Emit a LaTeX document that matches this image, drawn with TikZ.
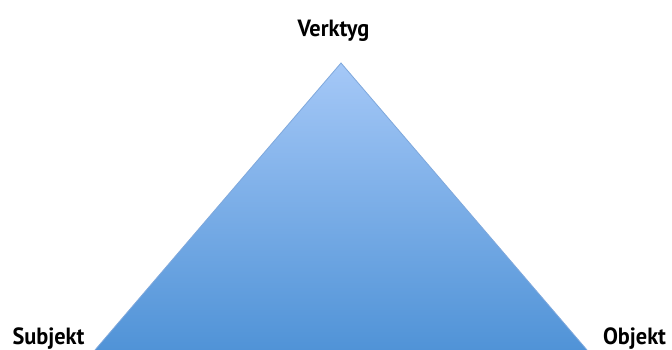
\documentclass[tikz,border=0pt]{standalone}
\usepackage{fontspec}
\setmainfont{PT Sans}
\definecolor{topblue}{HTML}{A5C8F7}
\definecolor{botblue}{HTML}{5093D7}
\definecolor{edgeblue}{HTML}{7FA8DC}
\begin{document}
\begin{tikzpicture}[x=1pt,y=1pt,
  lbl/.style={font=\fontsize{23.5}{26}\selectfont\bfseries, text=black, inner sep=0pt, anchor=base, xscale=0.95}]
\useasboundingbox (0,0) rectangle (672,350);
\coordinate (apex) at (341,287);
\coordinate (bl) at (95,0);
\coordinate (br) at (587,0);
\shade[top color=topblue, bottom color=botblue, draw=edgeblue, line width=0.8pt]
  (bl) -- (apex) -- (br);
\fill[white] (0,-5) rectangle (672,0);
\node[lbl] (verktyg) at (333.5,313) {Verktyg};
\node[lbl] (subjekt) at (48.5,5) {Subjekt};
\node[lbl] (objekt) at (634.5,5) {Objekt};
\end{tikzpicture}
\end{document}
